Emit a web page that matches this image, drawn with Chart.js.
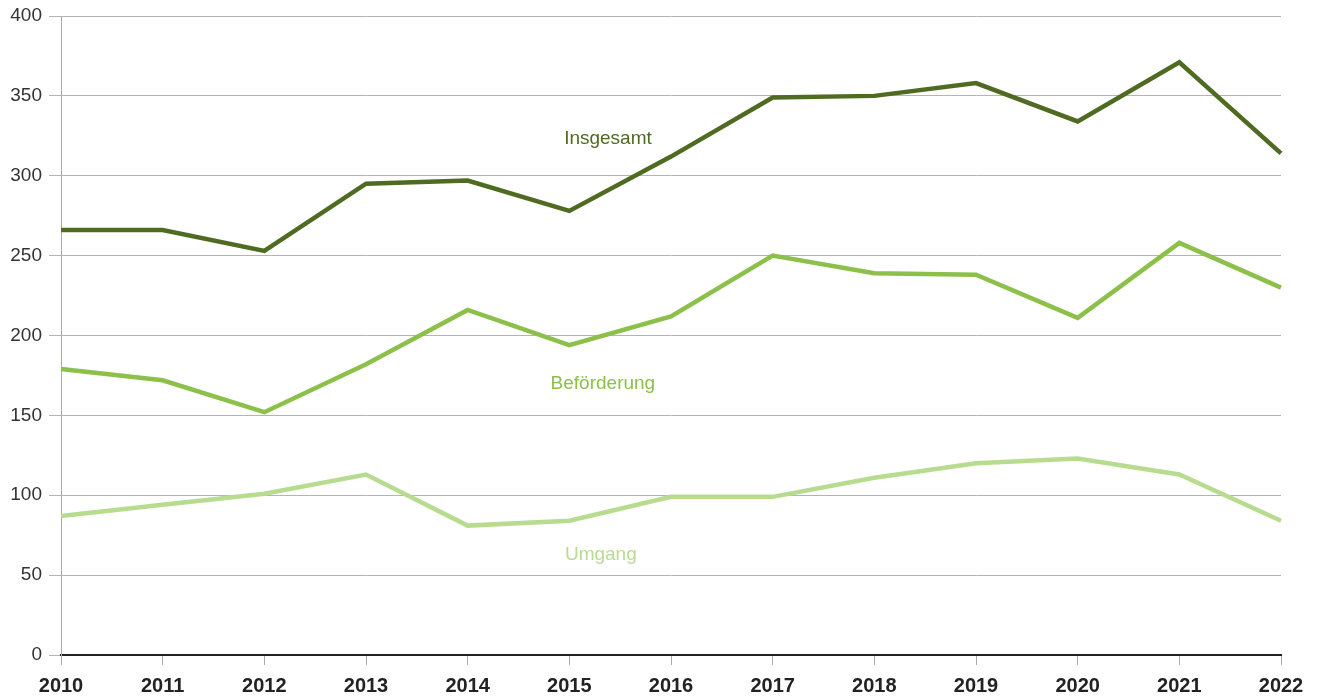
<!DOCTYPE html>
<html>
<head>
<meta charset="utf-8">
<script src="https://cdn.jsdelivr.net/npm/chart.js@4.4.1/dist/chart.umd.min.js"></script>
<style>
  html, body { margin: 0; padding: 0; background: #fff; }
  #chart { display: block; }
</style>
</head>
<body>
<canvas id="chart" width="1320" height="698"></canvas>
<script>
// Data
const years = ['2010', '2011', '2012', '2013', '2014', '2015', '2016', '2017', '2018', '2019', '2020', '2021', '2022'];
const insgesamt = [266, 266, 253, 295, 297, 278, 312, 349, 350, 358, 334, 371, 314];
const befoerderung = [179, 172, 152, 182, 216, 194, 212, 250, 239, 238, 211, 258, 230];
const umgang = [87, 94, 101, 113, 81, 84, 99, 99, 111, 120, 123, 113, 84];
const yTicks = [0, 50, 100, 150, 200, 250, 300, 350, 400];

// In-chart series labels: [text, x index, y value]
const seriesLabels = [
    ['Insgesamt', 5.38, 323],
    ['Beförderung', 5.33, 170],
    ['Umgang', 5.31, 63]
];

const colDark = '#4f6b22';
const colMid = '#8dc04a';
const colLight = '#b8dc8f';
const labelColors = [colDark, colMid, colLight];

const FONT = '"Liberation Sans", Arial, Helvetica, sans-serif';

// Draws the series names inside the plot
const seriesLabelPlugin = {
    id: 'seriesLabels',
    afterDatasetsDraw(chart) {
        const { ctx, scales } = chart;
        ctx.save();
        ctx.font = '19px ' + FONT;
        ctx.textAlign = 'center';
        ctx.textBaseline = 'middle';
        seriesLabels.forEach((l, i) => {
            ctx.fillStyle = labelColors[i];
            ctx.fillText(l[0], scales.x.getPixelForValue(l[1]), scales.y.getPixelForValue(l[2]));
        });
        ctx.restore();
    }
};

function lineSet(label, data, color) {
    return {
        label: label,
        data: data,
        borderColor: color,
        backgroundColor: color,
        borderWidth: 4.5,
        pointRadius: 0,
        tension: 0,
        borderJoinStyle: 'miter',
        clip: false
    };
}

new Chart(document.getElementById('chart').getContext('2d'), {
    type: 'line',
    data: {
        labels: years,
        datasets: [
            lineSet('Umgang', umgang, colLight),
            lineSet('Beförderung', befoerderung, colMid),
            lineSet('Insgesamt', insgesamt, colDark)
        ]
    },
    options: {
        responsive: false,
        animation: false,
        layout: { padding: { top: 16, right: 39, left: 0, bottom: 0 } },
        plugins: {
            legend: { display: false },
            tooltip: { enabled: false }
        },
        scales: {
            x: {
                type: 'category',
                offset: false,
                grid: {
                    drawOnChartArea: false,
                    drawTicks: true,
                    tickLength: 10,
                    tickColor: '#aaaaaa',
                    lineWidth: 1
                },
                border: { color: '#222222', width: 2 },
                ticks: {
                    color: '#222222',
                    font: { family: FONT, size: 20, weight: 'bold' },
                    padding: 9,
                    maxRotation: 0,
                    autoSkip: false
                },
                afterFit(scale) {
                    scale.height = 43;
                    scale.paddingLeft = 0;
                    scale.paddingRight = 0;
                }
            },
            y: {
                min: 0,
                max: 400,
                afterBuildTicks(scale) {
                    scale.ticks = yTicks.map(v => ({ value: v }));
                },
                grid: {
                    color: '#b4b4b4',
                    lineWidth: 1,
                    drawTicks: true,
                    tickLength: 12,
                    tickColor: '#b4b4b4'
                },
                border: { color: '#aaaaaa', width: 1 },
                ticks: {
                    color: '#333333',
                    font: { family: FONT, size: 19 },
                    padding: 7
                },
                afterFit(scale) {
                    scale.width = 61;
                    scale.paddingTop = 0;
                    scale.paddingBottom = 0;
                }
            }
        }
    },
    plugins: [seriesLabelPlugin]
});
</script>
</body>
</html>
